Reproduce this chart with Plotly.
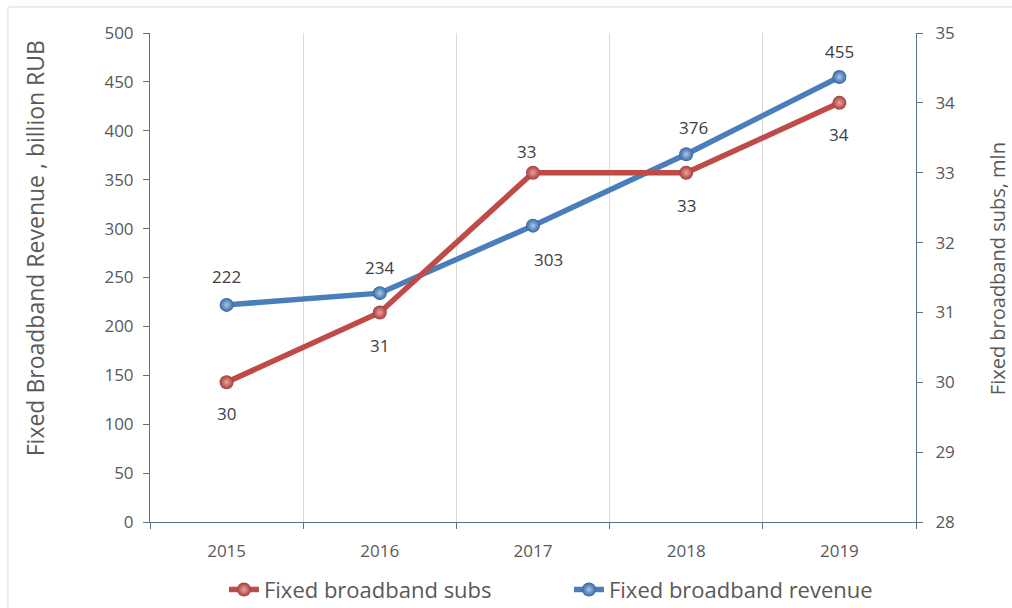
import plotly.graph_objects as go

# Yearly figures for fixed broadband in Russia
years = ["2015", "2016", "2017", "2018", "2019"]
subs_mln = [30, 31, 33, 33, 34]            # right axis
revenue_bln_rub = [222, 234, 303, 376, 455]  # left axis

# value-label offsets in pixels (positive = above the point)
subs_label_dy = [-31, -33, 21, -33, -32]
subs_label_dx = [0, 0, -7, 0, 0]
revenue_label_dy = [28, 26, -34, 27, 26]
revenue_label_dx = [0, 0, 15, 7, 0]

RED = "#BE4B48"
BLUE = "#4A7EBB"
AXIS = "#5A7288"
TEXT = "#595959"
LABEL = "#404040"
FONT = "Open Sans"

fig = go.Figure()

fig.add_trace(go.Scatter(
    x=years, y=subs_mln, yaxis="y2", name="Fixed broadband subs",
    mode="lines+markers",
    line=dict(color=RED, width=5.5),
    marker=dict(size=14, color="#A33E3B",
                gradient=dict(type="radial", color="#F0A09D"),
                line=dict(width=0)),
))
fig.add_trace(go.Scatter(
    x=years, y=revenue_bln_rub, yaxis="y", name="Fixed broadband revenue",
    mode="lines+markers",
    line=dict(color=BLUE, width=5.5),
    marker=dict(size=14, color="#36669F",
                gradient=dict(type="radial", color="#A6C8EE"),
                line=dict(width=0)),
))

# value labels; category positions are given by index along the x axis
annotations = []
for i, (v, dy, dx) in enumerate(zip(subs_mln, subs_label_dy, subs_label_dx)):
    annotations.append(dict(x=i, y=v, xref="x", yref="y2", text=str(v),
                            showarrow=False, yshift=dy, xshift=dx,
                            font=dict(family=FONT, size=17, color=LABEL)))
for i, (v, dy, dx) in enumerate(zip(revenue_bln_rub, revenue_label_dy, revenue_label_dx)):
    annotations.append(dict(x=i, y=v, xref="x", yref="y", text=str(v),
                            showarrow=False, yshift=dy, xshift=dx,
                            font=dict(family=FONT, size=17, color=LABEL)))

# axis titles, placed as rotated text beside each value axis
annotations.append(dict(text="Fixed Broadband Revenue , billion RUB",
                        xref="paper", yref="paper", x=-0.150, y=0.560,
                        xanchor="center", yanchor="middle",
                        textangle=-90, showarrow=False,
                        font=dict(family=FONT, size=23, color=TEXT)))
annotations.append(dict(text="Fixed broadband subs, mln",
                        xref="paper", yref="paper", x=1.1057, y=0.519,
                        xanchor="center", yanchor="middle",
                        textangle=-90, showarrow=False,
                        font=dict(family=FONT, size=20, color=TEXT)))

fig.update_layout(
    width=1012, height=608,
    margin=dict(l=150, r=96, t=33, b=86, autoexpand=False),
    paper_bgcolor="white", plot_bgcolor="white",
    font=dict(family=FONT, size=17, color=TEXT),
    showlegend=True,
    legend=dict(orientation="h", xref="container", x=0.2213, xanchor="left",
                yref="container", y=0.03, yanchor="middle",
                font=dict(family=FONT, size=22, color=TEXT),
                entrywidth=300, entrywidthmode="pixels",
                tracegroupgap=0, traceorder="normal"),
    xaxis=dict(type="category", categoryorder="array", categoryarray=years,
               range=[-0.5, len(years) - 0.5], autorange=False,
               tickson="boundaries", showgrid=True,
               gridcolor="#D9D9D9", gridwidth=1, showline=True, linecolor=AXIS,
               linewidth=1, ticks="outside", ticklen=6, tickcolor=AXIS,
               tickangle=0, ticklabelstandoff=14,
               tickfont=dict(size=17, color=TEXT), zeroline=False),
    yaxis=dict(range=[0, 500], dtick=50, showgrid=False, zeroline=False,
               showline=True, linecolor=AXIS, linewidth=1, ticks="outside",
               ticklen=6, tickcolor=AXIS, ticklabelstandoff=6,
               tickfont=dict(size=17, color=TEXT)),
    yaxis2=dict(range=[28, 35], dtick=1, overlaying="y", side="right",
                showgrid=False, zeroline=False, showline=True, linecolor=AXIS,
                linewidth=1, ticks="outside", ticklen=6, tickcolor=AXIS,
                ticklabelstandoff=9,
                tickfont=dict(size=17, color=TEXT)),
    annotations=annotations,
    shapes=[dict(type="rect", xref="paper", yref="paper",
                 x0=-0.1854, x1=1.13, y0=-0.19, y1=1.0532,
                 line=dict(color="#D9D9D9", width=1), layer="below")],
)

fig.write_html("out.html")
